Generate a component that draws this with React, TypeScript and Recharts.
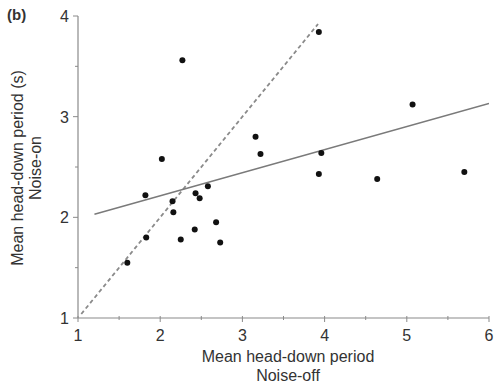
import React from 'react';
import { ScatterChart, Scatter, XAxis, YAxis } from 'recharts';

const noiseOff = [3.93, 2.27, 2.02, 5.07, 3.16, 3.22, 3.96, 3.93, 4.64, 5.70, 1.82, 2.15, 2.16, 2.43, 2.48, 2.58, 1.83, 2.25, 2.42, 2.68, 2.73, 1.60];
const noiseOn = [3.84, 3.56, 2.58, 3.12, 2.80, 2.63, 2.64, 2.43, 2.38, 2.45, 2.22, 2.16, 2.05, 2.24, 2.19, 2.31, 1.80, 1.78, 1.88, 1.95, 1.75, 1.55];
const fitX = [1.2, 6.0];
const fitY = [2.03, 3.13];
const identityX = [1.04, 3.92];
const identityY = [1.04, 3.92];
const xTicks = [1, 1.5, 2, 2.5, 3, 3.5, 4, 4.5, 5, 5.5, 6];
const yTicks = [1, 1.5, 2, 2.5, 3, 3.5, 4];

const points = noiseOff.map((x, i) => ({ x, y: noiseOn[i] }));
const fitLine = fitX.map((x, i) => ({ x, y: fitY[i] }));
const identityLine = identityX.map((x, i) => ({ x, y: identityY[i] }));

const AXIS = '#8a8a8a';
const FONT = 'Liberation Sans, Arial, sans-serif';

const XTick = (props: any) => {
  const { x, y, payload } = props;
  const v = payload.value;
  const major = Number.isInteger(v);
  return (
    <g>
      <line x1={x} x2={x} y1={y - 2} y2={y + (major ? 4 : 2)} stroke={AXIS} strokeWidth={1} />
      {major && (
        <text x={x} y={y + 23} textAnchor="middle" fontSize={16} fill="#333" fontFamily={FONT}>
          {v}
        </text>
      )}
    </g>
  );
};

const YTick = (props: any) => {
  const { x, y, payload } = props;
  const v = payload.value;
  const major = Number.isInteger(v);
  return (
    <g>
      <line x1={x - (major ? 5 : 3)} x2={x} y1={y} y2={y} stroke={AXIS} strokeWidth={1} />
      {major && (
        <text x={x - 9} y={y + 6} textAnchor="end" fontSize={16} fill="#333" fontFamily={FONT}>
          {v}
        </text>
      )}
    </g>
  );
};

const Dot = (props: any) => {
  const { cx, cy } = props;
  return <circle cx={cx} cy={cy} r={3} fill="#111" />;
};

const NoDot = () => <g />;

export default function App() {
  return (
    <div style={{ position: 'absolute', left: 0, top: 0, width: 497, height: 385, background: '#fff', fontFamily: FONT }}>
      <ScatterChart width={497} height={385} margin={{ top: 16, right: 8, bottom: 17, left: 18 }}>
        <XAxis
          type="number"
          dataKey="x"
          domain={[1, 6]}
          ticks={xTicks}
          interval={0}
          height={50}
          tickSize={0}
          tickMargin={0}
          tickLine={false}
          tick={<XTick />}
          stroke={AXIS}
          strokeWidth={1.2}
          allowDataOverflow
        />
        <YAxis
          type="number"
          dataKey="y"
          domain={[1, 4]}
          ticks={yTicks}
          interval={0}
          width={60}
          tickSize={0}
          tickMargin={0}
          tickLine={false}
          tick={<YTick />}
          stroke={AXIS}
          strokeWidth={1.2}
          allowDataOverflow
        />
        <Scatter
          data={identityLine}
          line={{ stroke: '#8a8a8a', strokeWidth: 1.8, strokeDasharray: '4 3' }}
          shape={<NoDot />}
          isAnimationActive={false}
        />
        <Scatter
          data={fitLine}
          line={{ stroke: '#7a7a7a', strokeWidth: 1.5 }}
          shape={<NoDot />}
          isAnimationActive={false}
        />
        <Scatter data={points} shape={<Dot />} isAnimationActive={false} />
      </ScatterChart>
      <div style={{ position: 'absolute', left: 7, top: 6, fontSize: 15, lineHeight: '17px', fontWeight: 'bold', color: '#333' }}>(b)</div>
      <div
        style={{
          position: 'absolute',
          left: 27,
          top: 168,
          transform: 'translate(-50%, -50%) rotate(-90deg)',
          whiteSpace: 'nowrap',
          textAlign: 'center',
          fontSize: 16,
          lineHeight: '18px',
          color: '#333',
        }}
      >
        Mean head-down period (s)
        <br />
        Noise-on
      </div>
      <div
        style={{
          position: 'absolute',
          left: 288,
          top: 366,
          transform: 'translate(-50%, -50%)',
          whiteSpace: 'nowrap',
          textAlign: 'center',
          fontSize: 16,
          lineHeight: '19px',
          color: '#333',
        }}
      >
        Mean head-down period
        <br />
        Noise-off
      </div>
    </div>
  );
}
